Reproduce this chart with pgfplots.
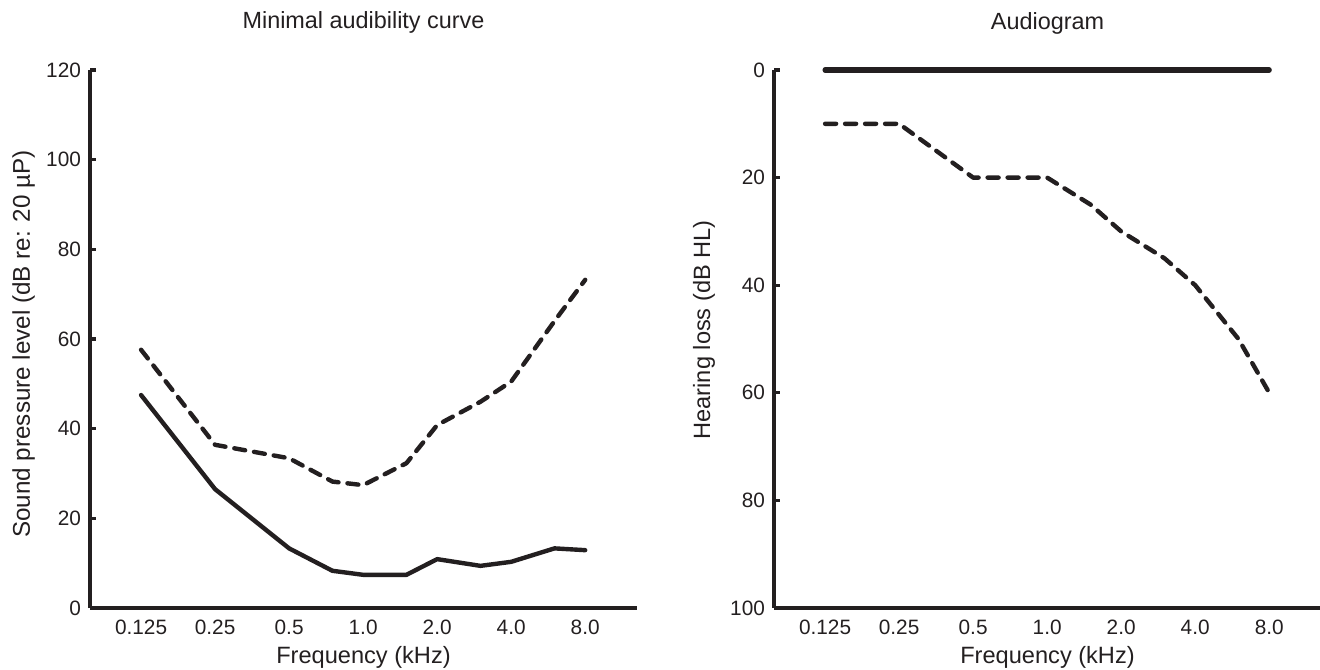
\documentclass[border=0pt]{standalone}
\usepackage{fontspec}
\setmainfont{Liberation Sans}
\usepackage{pgfplots}
\pgfplotsset{compat=1.18}
\definecolor{ink}{RGB}{35,31,32}
\pgfplotsset{
  audio/.style={
    scale only axis, width=273.5pt, height=269pt,
    xmin=-0.69, xmax=6.70,
    axis x line*=bottom, axis y line*=left,
    axis line style={line width=1.6pt, color=ink},
    xtick={0,1,2,3,4,5,6},
    xticklabels={0.125,0.25,0.5,1.0,2.0,4.0,8.0},
    x tick style={draw=none},
    y tick style={line width=1.6pt, color=ink},
    tick align=inside, major tick length=3pt,
    /pgf/number format/assume math mode=true,
    /pgf/number format/1000 sep={},
    ticklabel style={font=\fontsize{10.4}{12}\selectfont, color=ink},
    xticklabel style={anchor=base, yshift=-13pt},
    yticklabel style={xshift=-1pt},
    label style={font=\fontsize{11.8}{14}\selectfont, color=ink},
    title style={font=\fontsize{11.7}{14}\selectfont, color=ink, at={(axis description cs:0.5,1)}, anchor=base, yshift=14.5pt},
    xlabel style={at={(axis description cs:0.5,0)}, anchor=base, yshift=-27.5pt},
    clip=false,
  },
  solidl/.style={color=ink, line width=2.2pt, line join=round, line cap=round},
  dashl/.style={color=ink, line width=2.2pt, line join=round, line cap=round, dash pattern=on 5.5pt off 4.5pt},
}
\begin{document}
\begin{tikzpicture}
\path[use as bounding box] (0,0) rectangle (660pt,334.5pt);
\begin{axis}[audio,
  at={(45pt,30.5pt)}, anchor=south west,
  ymin=0, ymax=120, ytick={0,20,40,60,80,100,120},
  title={Minimal audibility curve},
  xlabel={Frequency (kHz)},
  ylabel={Sound pressure level (dB re: 20 µP)},
  ylabel style={at={(axis description cs:-0.1097,0.4907)}, anchor=base, font=\fontsize{12.1}{14}\selectfont},
]
\addplot[solidl] coordinates {
 (0,47.5) (1,26.5) (2,13.3) (2.585,8.3) (3,7.4) (3.585,7.4)
 (4,10.9) (4.585,9.4) (5,10.3) (5.585,13.3) (6,12.9)};
\addplot[dashl] coordinates {
 (0,57.6) (1,36.4) (2,33.4) (2.585,28.2) (3,27.4) (3.585,32.3)
 (4,40.8) (4.585,46) (5,50.5) (5.585,64) (6,73.2)};
\end{axis}
\begin{axis}[audio,
  at={(387pt,30.5pt)}, anchor=south west,
  ymin=0, ymax=100, y dir=reverse, ytick={0,20,40,60,80,100},
  title={Audiogram},
  xlabel={Frequency (kHz)},
  ylabel={Hearing loss (dB HL)},
  ylabel style={at={(axis description cs:-0.117,0.517)}, anchor=base},
]
\addplot[solidl, line width=2.6pt] coordinates {(0,0) (1,0) (2,0) (3,0) (4,0) (5,0) (6,0)};
\addplot[dashl] coordinates {
 (0,10) (1,10) (2,20) (3,20) (3.585,25) (4,30) (4.585,35) (5,40) (5.585,50) (6,60)};
\end{axis}
\end{tikzpicture}
\end{document}
